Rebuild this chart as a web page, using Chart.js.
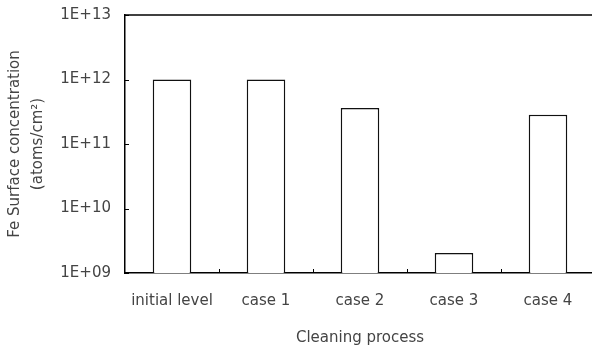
<!DOCTYPE html>
<html>
<head>
<meta charset="utf-8">
<script src="https://cdn.jsdelivr.net/npm/chart.js@4"></script>
<style>
  html, body { margin: 0; padding: 0; background: #fff; overflow: hidden; }
  #wrap { width: 595px; height: 351px; }
</style>
</head>
<body>
<div id="wrap"><canvas id="chartFe" width="595" height="351"></canvas></div>
<script>
const categories = ["initial level", "case 1", "case 2", "case 3", "case 4"];
const feConcentration = [1.0e12, 1.0e12, 3.6e11, 2.05e9, 2.85e11];
const tickValues = [1e9, 1e10, 1e11, 1e12, 1e13];
const tickLabels = ["1E+09", "1E+10", "1E+11", "1E+12", "1E+13"];

const textFont = { family: "DejaVu Sans", size: 15 };
const textColor = "#444";

// inward ticks + top frame line, like the original plot
const framePlugin = {
  id: "frame",
  afterDraw(chart) {
    const { ctx, chartArea } = chart;
    const x = chart.scales.x;
    const y = chart.scales.y;
    ctx.save();
    ctx.strokeStyle = "#000";
    ctx.lineWidth = 1.5;
    ctx.beginPath();
    ctx.moveTo(chartArea.left, chartArea.top);
    ctx.lineTo(chartArea.right, chartArea.top);
    ctx.stroke();

    ctx.lineWidth = 1;
    tickValues.forEach(v => {
      const py = Math.round(y.getPixelForValue(v)) + 0.5;
      ctx.beginPath();
      ctx.moveTo(chartArea.left, py);
      ctx.lineTo(chartArea.left + 4, py);
      ctx.stroke();
    });
    for (let i = 0; i < categories.length - 1; i++) {
      const px = Math.round((x.getPixelForValue(i) + x.getPixelForValue(i + 1)) / 2) + 0.5;
      ctx.beginPath();
      ctx.moveTo(px, chartArea.bottom);
      ctx.lineTo(px, chartArea.bottom - 4);
      ctx.stroke();
    }
    ctx.restore();
  }
};

const ctx = document.getElementById("chartFe").getContext("2d");
new Chart(ctx, {
  type: "bar",
  data: {
    labels: categories,
    datasets: [{
      label: "Fe",
      data: feConcentration,
      backgroundColor: "#fff",
      borderColor: "#111",
      borderWidth: 1.5,
      categoryPercentage: 1,
      barPercentage: 0.41
    }]
  },
  options: {
    responsive: false,
    animation: false,
    layout: { padding: { top: 15, right: 0, bottom: 0, left: 0 } },
    plugins: { legend: { display: false }, tooltip: { enabled: false } },
    scales: {
      x: {
        grid: { display: false, drawTicks: false },
        border: { display: true, color: "#000", width: 1.5 },
        ticks: { color: textColor, font: textFont, padding: 19, maxRotation: 0 },
        title: {
          display: true,
          text: "Cleaning process",
          color: textColor,
          font: textFont,
          padding: { top: 0, bottom: 4 }
        },
        afterFit: scale => { scale.height = 78; scale.paddingLeft = 0; scale.paddingRight = 0; }
      },
      y: {
        type: "logarithmic",
        min: 1e9,
        max: 1e13,
        grid: { display: false, drawTicks: false },
        border: { display: true, color: "#000", width: 1.5 },
        afterBuildTicks: axis => { axis.ticks = tickValues.map(v => ({ value: v })); },
        ticks: {
          color: textColor,
          font: textFont,
          padding: 14,
          callback: v => tickLabels[tickValues.indexOf(v)]
        },
        title: {
          display: true,
          text: ["Fe Surface concentration", "(atoms/cm\u00B2)"],
          color: textColor,
          font: { family: "DejaVu Sans", size: 15, lineHeight: 1.5 },
          padding: { top: 4, bottom: 0 }
        },
        afterFit: scale => { scale.width = 125; scale.paddingTop = 0; scale.paddingBottom = 0; }
      }
    }
  },
  plugins: [framePlugin]
});
</script>
</body>
</html>
